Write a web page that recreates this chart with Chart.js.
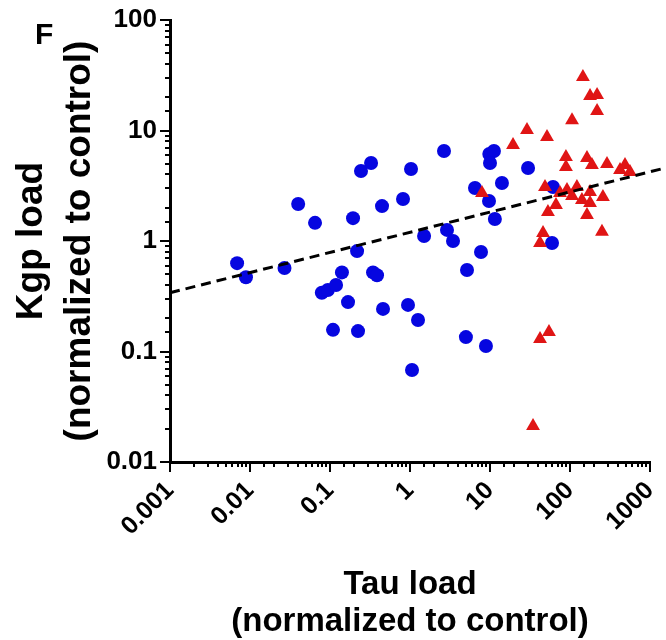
<!DOCTYPE html>
<html>
<head>
<meta charset="utf-8">
<script src="https://cdn.jsdelivr.net/npm/chart.js@4.4.1/dist/chart.umd.min.js"></script>
<style>
  html, body { margin: 0; padding: 0; background: #fff; }
  canvas { display: block; }
</style>
</head>
<body>
<canvas id="chart" width="666" height="640"></canvas>
<script>
// Tau load (x) vs Kgp load (y), both normalized to control, log-log
var blueTau = [0.0069, 0.0089, 0.027, 0.040, 0.065, 0.079, 0.094, 0.119, 0.109, 0.141,
    0.168, 0.194, 0.218, 0.224, 0.244, 0.326, 0.345, 0.387, 0.447, 0.46,
    0.818, 0.944, 1.03, 1.06, 1.26, 1.5, 2.66, 2.9, 3.45, 5.0,
    5.16, 7.72, 8.9, 6.49, 9.72, 9.8, 11.2, 10.0, 11.5, 14.1,
    29.9, 59.6, 61.3];
var blueKgp = [0.63, 0.47, 0.57, 2.16, 1.46, 0.34, 0.36, 0.40, 0.157, 0.52,
    0.28, 1.61, 0.81, 0.153, 4.3, 5.08, 0.52, 0.49, 2.07, 0.243,
    2.4, 0.264, 4.48, 0.068, 0.193, 1.11, 6.52, 1.26, 1.0, 0.135,
    0.547, 0.795, 0.112, 3.02, 2.3, 6.13, 6.52, 5.08, 1.58, 3.35,
    4.58, 0.96, 3.08];

var redTau = [145, 178, 218, 218, 106, 29, 51.6, 19.4, 89, 89,
    163, 188, 290, 487, 562, 422, 48.7, 75, 91.7, 122,
    106, 178, 258, 178, 53, 163, 251, 46, 42.2, 54.6,
    42.2, 34.5, 7.94, 141, 66.8];
var redKgp = [30.5, 20.5, 21, 15, 12.4, 10.1, 8.73, 7.39, 5.75, 4.67,
    5.64, 4.87, 4.98, 4.87, 4.21, 4.39, 3.08, 2.72, 2.89, 3.08,
    2.55, 2.78, 2.5, 2.21, 1.83, 1.72, 1.21, 1.18, 0.96, 0.15,
    0.13, 0.0212, 2.72, 2.35, 2.12];

// fitted line end points (it runs past the right end of the axis)
var fitTau = [0.001, 1585];
var fitKgp = [0.34, 4.6];

var xTickLabels = ['0.001', '0.01', '0.1', '1', '10', '100', '1000'];
var yTickLabels = ['0.01', '0.1', '1', '10', '100'];

var FONT = '"Liberation Sans", Arial, sans-serif';

function toPoints(xs, ys) {
    return xs.map(function (x, i) {
        return {x: x, y: ys[i]};
    });
}

function isDecade(v) {
    var e = Math.log10(v);
    return Math.abs(e - Math.round(e)) < 1e-6;
}

// drop the extra room chart.js keeps for the end labels
function noEdgePadding(scale) {
    scale.paddingLeft = 0;
    scale.paddingRight = 0;
    scale.paddingTop = 0;
    scale.paddingBottom = 0;
}

// short minor ticks, long decade ticks, plus the panel letter
var tickMarks = {
    id: 'tickMarks',
    afterDraw: function (chart) {
        var ctx = chart.ctx;
        var xs = chart.scales.x;
        var ys = chart.scales.y;
        ctx.save();
        ctx.strokeStyle = '#000';
        ctx.lineWidth = 2;
        xs.ticks.forEach(function (t) {
            var px = Math.round(xs.getPixelForValue(t.value));
            var len = isDecade(t.value) ? 10 : 5;
            ctx.beginPath();
            ctx.moveTo(px, xs.top);
            ctx.lineTo(px, xs.top + len);
            ctx.stroke();
        });
        ys.ticks.forEach(function (t) {
            var py = Math.round(ys.getPixelForValue(t.value));
            var len = isDecade(t.value) ? 10 : 5;
            ctx.beginPath();
            ctx.moveTo(ys.right, py);
            ctx.lineTo(ys.right - len, py);
            ctx.stroke();
        });
        ctx.fillStyle = '#000';
        ctx.font = 'bold 30px ' + FONT;
        ctx.textBaseline = 'alphabetic';
        ctx.fillText('F', 35, 44);
        ctx.restore();
    }
};

var ctx = document.getElementById('chart');
new Chart(ctx, {
    type: 'scatter',
    data: {
        datasets: [{
            data: toPoints(fitTau, fitKgp),
            showLine: true,
            pointRadius: 0,
            borderColor: '#000',
            borderWidth: 3,
            borderDash: [10, 6],
            clip: false
        }, {
            data: toPoints(redTau, redKgp),
            pointStyle: 'triangle',
            pointRadius: 8,
            backgroundColor: '#e01515',
            borderColor: '#e01515',
            borderWidth: 0
        }, {
            data: toPoints(blueTau, blueKgp),
            pointStyle: 'circle',
            pointRadius: 7,
            backgroundColor: '#0606e0',
            borderColor: '#0606e0',
            borderWidth: 0
        }]
    },
    options: {
        responsive: false,
        devicePixelRatio: 1,
        animation: false,
        layout: {padding: {top: 20, right: 16, left: 0, bottom: 0}},
        plugins: {
            legend: {display: false},
            tooltip: {enabled: false}
        },
        scales: {
            x: {
                type: 'logarithmic',
                min: 0.001,
                max: 1000,
                afterFit: function (scale) {
                    scale.height = 178;
                    noEdgePadding(scale);
                },
                border: {color: '#000', width: 3},
                grid: {display: true, drawOnChartArea: false, drawTicks: false},
                ticks: {
                    autoSkip: false,
                    minRotation: 45,
                    maxRotation: 45,
                    padding: 14,
                    color: '#000',
                    font: {family: FONT, size: 25, weight: 'bold'},
                    callback: function (value) {
                        if (!isDecade(value)) return '';
                        return xTickLabels[Math.round(Math.log10(value)) + 3];
                    }
                },
                title: {
                    display: true,
                    text: ['Tau load', '(normalized to control)'],
                    color: '#000',
                    padding: {top: 0, bottom: 0},
                    font: {family: FONT, size: 33, weight: 'bold', lineHeight: 1.12}
                }
            },
            y: {
                type: 'logarithmic',
                min: 0.01,
                max: 100,
                afterFit: function (scale) {
                    scale.width = 170;
                    noEdgePadding(scale);
                },
                border: {color: '#000', width: 3},
                grid: {display: true, drawOnChartArea: false, drawTicks: false},
                ticks: {
                    autoSkip: false,
                    padding: 13,
                    color: '#000',
                    font: {family: FONT, size: 26, weight: 'bold'},
                    callback: function (value) {
                        if (!isDecade(value)) return '';
                        return yTickLabels[Math.round(Math.log10(value)) + 2];
                    }
                },
                title: {
                    display: true,
                    text: ['Kgp load', '(normalized to control)'],
                    color: '#000',
                    padding: {top: 8, bottom: 0},
                    font: {family: FONT, size: 37, weight: 'bold', lineHeight: 1.3}
                }
            }
        }
    },
    plugins: [tickMarks]
});
</script>
</body>
</html>
